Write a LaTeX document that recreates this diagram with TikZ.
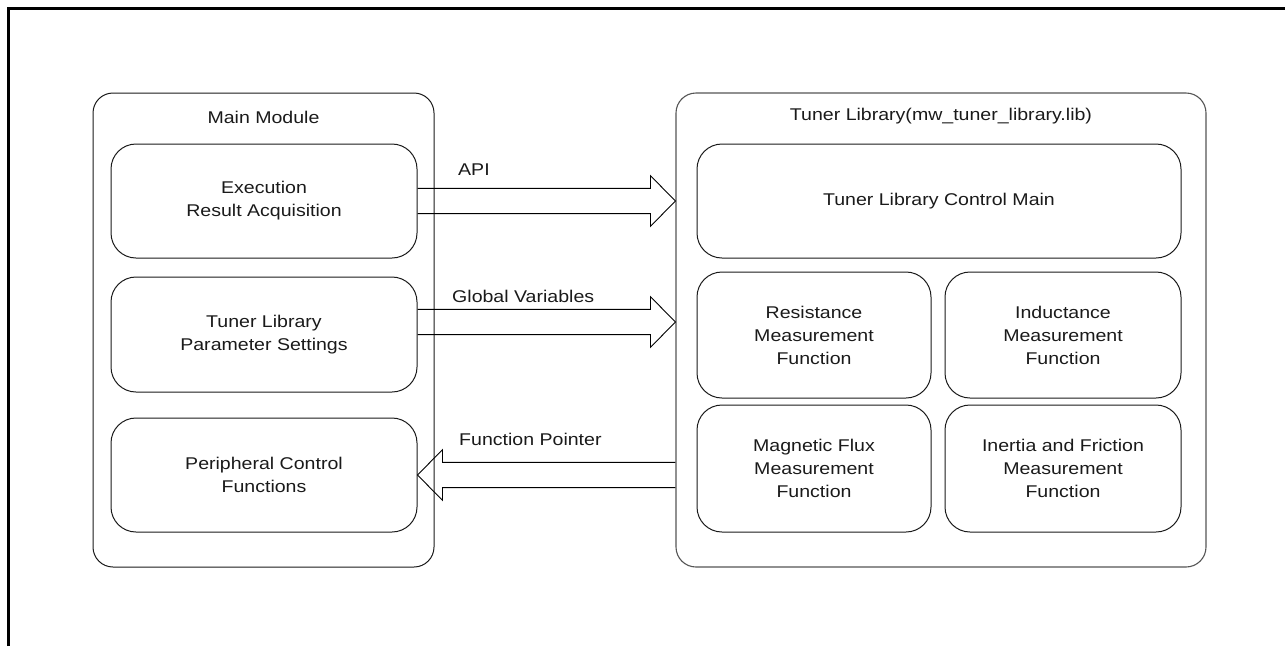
\documentclass[tikz,border=0pt]{standalone}
\usepackage{fontspec}
\setmainfont{Liberation Sans}[FakeStretch=1.15]
\usetikzlibrary{calc}
\definecolor{ink}{HTML}{1A1A1A}
\definecolor{outerline}{HTML}{555555}
\tikzset{
  txt/.style={font=\fontsize{17}{23}\selectfont, text=ink, align=center, inner sep=0pt},
  group/.style={draw=ink, line width=1pt, rounded corners=20pt, minimum width=#1},
  inbox/.style={txt, draw=ink, line width=1pt, rounded corners=25pt},
  lbl/.style={txt, anchor=west},
  barrow/.style={draw=black, line width=0.9pt, line join=miter}
}
\begin{document}
\begin{tikzpicture}[x=1pt, y=-1pt]
\useasboundingbox (0,0) rectangle (1285,646);
% outer frame (top and left)
\draw[line width=3pt, black] (8.5,646) -- (8.5,8.5) -- (1285,8.5);

% Main module
\node[draw=ink, line width=1pt, rounded corners=20pt, minimum width=341pt, minimum height=474pt, inner sep=0pt] (main) at (263.5,330) {};
\node[txt] (maint) at (263.5,117.5) {Main Module};
\node[inbox, minimum width=306pt, minimum height=114pt] (exec) at (264,201) {Execution\\Result Acquisition};
\node[inbox, minimum width=306pt, minimum height=115pt] (param) at (264,334.5) {Tuner Library\\Parameter Settings};
\node[inbox, minimum width=306pt, minimum height=114pt] (periph) at (264,475) {Peripheral Control\\Functions};

% Tuner library
\node[draw=outerline, line width=1.1pt, rounded corners=20pt, minimum width=530pt, minimum height=474pt, inner sep=0pt] (tuner) at (941,330) {};
\node[txt] (tunert) at (941,116) {Tuner Library(mw\_tuner\_library.lib)};
\node[inbox, minimum width=484pt, minimum height=114pt] (ctrl) at (939,201) {Tuner Library Control Main};
\node[inbox, minimum width=234pt, minimum height=126pt] (res) at (814,335) {Resistance\\Measurement\\Function};
\node[inbox, minimum width=236pt, minimum height=126pt] (ind) at (1063,335) {Inductance\\Measurement\\Function};
\node[inbox, minimum width=234pt, minimum height=127pt] (mag) at (814,468.5) {Magnetic Flux\\Measurement\\Function};
\node[inbox, minimum width=236pt, minimum height=127pt] (inert) at (1063,468.5) {Inertia and Friction\\Measurement\\Function};

% block arrows
\coordinate (a1) at (exec.east);
\coordinate (a2) at (exec.east -| tuner.west);
\draw[barrow] let \p1=(a1), \p2=(a2) in
  (\x1,\y1+12.65pt) -- (\x2-25pt,\y1+12.65pt) -- (\x2-25pt,\y1+25.3pt) -- (\x2,\y1)
  -- (\x2-25pt,\y1-25.3pt) -- (\x2-25pt,\y1-12.65pt) -- (\x1,\y1-12.65pt);

\coordinate (g1) at ([yshift=12.5pt]param.east);
\coordinate (g2) at (g1 -| tuner.west);
\draw[barrow] let \p1=(g1), \p2=(g2) in
  (\x1,\y1+12.65pt) -- (\x2-25pt,\y1+12.65pt) -- (\x2-25pt,\y1+25.3pt) -- (\x2,\y1)
  -- (\x2-25pt,\y1-25.3pt) -- (\x2-25pt,\y1-12.65pt) -- (\x1,\y1-12.65pt);

\coordinate (f1) at (periph.east -| tuner.west);
\coordinate (f2) at (periph.east);
\draw[barrow] let \p1=(f1), \p2=(f2) in
  (\x1,\y1+12.65pt) -- (\x2+25pt,\y1+12.65pt) -- (\x2+25pt,\y1+25.3pt) -- (\x2,\y1)
  -- (\x2+25pt,\y1-25.3pt) -- (\x2+25pt,\y1-12.65pt) -- (\x1,\y1-12.65pt);

% arrow labels
\node[lbl] (apil) at (458,170) {API};
\node[lbl] (gvl) at (452,296) {Global Variables};
\node[lbl] (fpl) at (459,439) {Function Pointer};
\end{tikzpicture}
\end{document}
